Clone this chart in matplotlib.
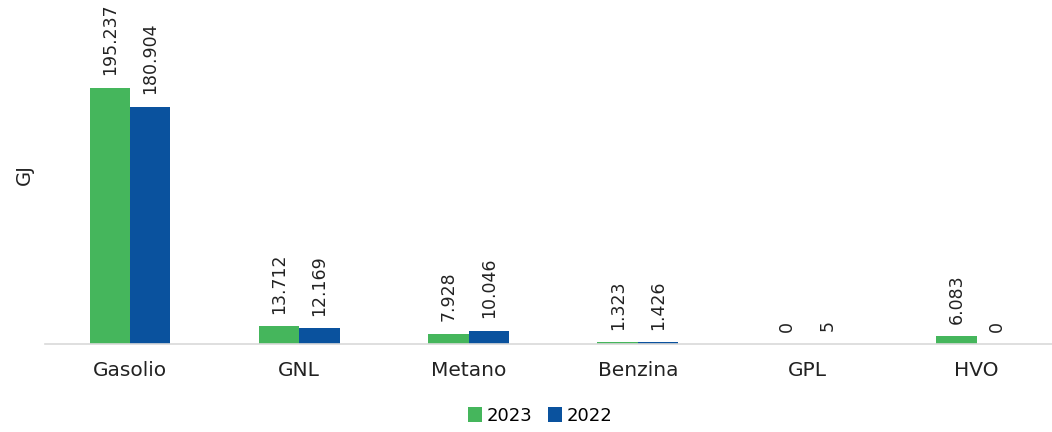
import matplotlib
matplotlib.use("Agg")
import matplotlib.pyplot as plt
import numpy as np

categories = ["Gasolio", "GNL", "Metano", "Benzina", "GPL", "HVO"]
values_2023 = [195237, 13712, 7928, 1323, 0, 6083]
values_2022 = [180904, 12169, 10046, 1426, 5, 0]
series_names = ["2023", "2022"]

def fmt(v):
    return f"{v:,}".replace(",", ".")

plt.rcParams['font.family'] = ['DejaVu Sans']

fig = plt.figure(figsize=(10.52, 4.32), dpi=100)
ax = fig.add_axes([45/1052, 88/432, 1007/1052, 339/432])

x = np.arange(len(categories))
w = 0.239
c1, c2 = "#45B65C", "#0A529E"
b1 = ax.bar(x - w/2, values_2023, w, color=c1, label=series_names[0])
b2 = ax.bar(x + w/2, values_2022, w, color=c2, label=series_names[1])

for bars, vals in ((b1, values_2023), (b2, values_2022)):
    for rect, v in zip(bars, vals):
        ax.annotate(fmt(v), (rect.get_x() + rect.get_width()/2, rect.get_height()),
                    xytext=(0, 9), textcoords="offset points", rotation=90,
                    ha="center", va="bottom", fontsize=12.5, color="#222222")

unit = 169.3
ax.set_xlim(-85/unit, -85/unit + 1007/unit)
ax.set_ylim(0, 258500)
ax.set_xticks(x)
ax.set_xticklabels(categories, fontsize=14.5, color="#222222")
ax.tick_params(axis="x", length=0, pad=12)
ax.set_yticks([])
for s in ["top", "right", "left"]:
    ax.spines[s].set_visible(False)
ax.spines["bottom"].set_color("#d9d9d9")
ax.spines["bottom"].set_linewidth(1.2)
ax.set_ylabel("GJ", fontsize=14, color="#222222", labelpad=8)

fig.legend(handles=[b1, b2], labels=series_names, loc="center", bbox_to_anchor=(540/1052, 1 - 416/432),
           ncol=2, frameon=False, fontsize=13, handlelength=0.75, handleheight=0.9,
           handletextpad=0.25, columnspacing=0.9)

fig.savefig("out.png", dpi=100)
